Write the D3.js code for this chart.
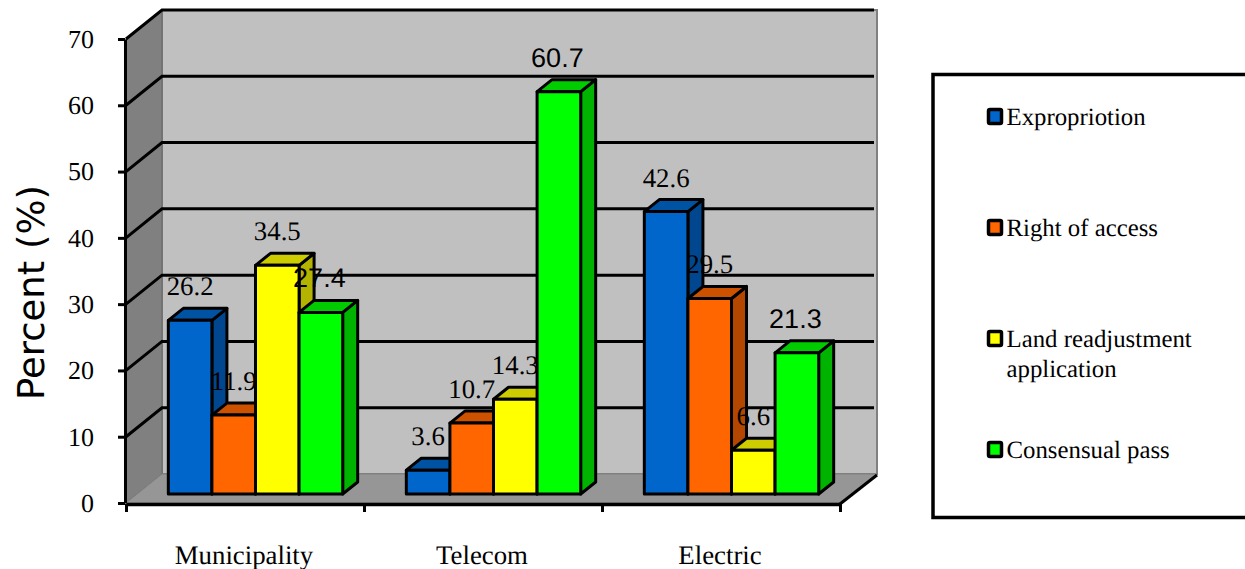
<!DOCTYPE html>
<html>
<head>
<meta charset="utf-8">
<script src="https://cdn.jsdelivr.net/npm/d3@7/dist/d3.min.js"></script>
<style>
html,body{margin:0;padding:0;background:#fff;overflow:hidden}
svg{display:block;text-rendering:geometricPrecision}
</style>
</head>
<body>
<svg id="chart" width="1245" height="569"></svg>
<script>
// Land-transfer methods by utility sector, drawn as a pseudo-3D clustered column chart.
const categories = ["Municipality", "Telecom", "Electric"];
const seriesNames = ["Expropriotion", "Right of access", "Land readjustment application", "Consensual pass"];
const expropriation = [26.2, 3.6, 42.6];
const rightOfAccess = [11.9, 10.7, 29.5];
const landReadjustment = [34.5, 14.3, 6.6];
const consensualPass = [27.4, 60.7, 21.3];
const seriesValues = [expropriation, rightOfAccess, landReadjustment, consensualPass];
const valueTicks = [0, 10, 20, 30, 40, 50, 60, 70];

const faceColors = ["#0066cc", "#ff6600", "#ffff00", "#00ff00"];
const topColors = ["#0052a3", "#cc5200", "#cccc00", "#00cc00"];
const sideColors = ["#00478f", "#b34700", "#b3b300", "#00b300"];

const serif = "'Liberation Serif','Times New Roman',serif";
const sans = "'Liberation Sans',Arial,sans-serif";

const svg = d3.select("#chart");

// Box projection: front edge of the floor and the shift to the back wall.
const plot = {left: 126, right: 840, front: 503, top: 39, depthX: 36, depthY: -29};
const y = d3.scaleLinear().domain([0, 70]).range([plot.front, plot.top]);
const x = d3.scaleBand().domain(categories).range([plot.left, plot.right]);
const barShiftX = 10.5, barShiftY = -9, barDepthX = 15, barDepthY = -12;
const inner = d3.scaleBand().domain(d3.range(seriesNames.length))
  .range([0, x.bandwidth()]).paddingInner(0).paddingOuter(0.73);
const poly = pts => pts.map(p => p.join(",")).join(" ");

const backL = plot.left + plot.depthX, backR = plot.right + plot.depthX + 1;
const yBack = v => y(v) + plot.depthY;

// Walls and floor
svg.append("polygon").attr("points", poly([[backL, yBack(70)], [backR, yBack(70)], [backR, yBack(0)], [backL, yBack(0)]]))
  .attr("fill", "#c0c0c0").attr("stroke", "#808080").attr("stroke-width", 2);
svg.append("polygon").attr("points", poly([[plot.left, y(70)], [backL, yBack(70)], [backL, yBack(0)], [plot.left, y(0)]]))
  .attr("fill", "#808080").attr("stroke", "#666").attr("stroke-width", 1);
svg.append("polygon").attr("points", poly([[plot.left, y(0)], [backL, yBack(0)], [backR, yBack(0)], [plot.right, y(0)]]))
  .attr("fill", "#969696").attr("stroke", "#808080").attr("stroke-width", 1);

// Gridlines wrapping from the left wall across the back wall
svg.append("g").selectAll("polyline").data(valueTicks.filter(d => d > 0)).join("polyline")
  .attr("points", d => poly([[plot.left, y(d)], [backL, yBack(d)], [backR - 3, yBack(d)]]))
  .attr("fill", "none").attr("stroke", "#000").attr("stroke-width", 3);

// Right floor edge
svg.append("line").attr("x1", plot.right).attr("y1", y(0) + 1).attr("x2", backR).attr("y2", yBack(0) + 1)
  .attr("stroke", "#000").attr("stroke-width", 3);

// Axes
const yAxis = d3.axisLeft(y).tickValues(valueTicks).tickSize(7).tickPadding(24).tickSizeOuter(0);
const gy = svg.append("g").attr("transform", `translate(${plot.left - 1},0)`).call(yAxis);
gy.selectAll("path").attr("stroke", "#000").attr("stroke-width", 3);
gy.selectAll("line").attr("stroke", "#000").attr("stroke-width", 3);
gy.selectAll("text").attr("font-family", serif).attr("font-size", 26).attr("fill", "#000");

const xEdges = d3.range(categories.length + 1).map(i => plot.left + i * x.step());
const xAxisScale = d3.scaleLinear().domain([plot.left, plot.right]).range([plot.left, plot.right]);
const gx = svg.append("g").attr("transform", `translate(0,${plot.front + 1})`)
  .call(d3.axisBottom(xAxisScale).tickValues(xEdges).tickSize(8).tickSizeOuter(0).tickFormat(""));
gx.selectAll("path").attr("stroke", "#000").attr("stroke-width", 3.5);
gx.selectAll("line").attr("stroke", "#000").attr("stroke-width", 3);

svg.append("g").selectAll("text").data(categories).join("text")
  .attr("x", d => x(d) + x.bandwidth() / 2 - 1)
  .attr("y", 564)
  .attr("text-anchor", "middle").attr("font-family", serif).attr("font-size", 26.8).attr("fill", "#000")
  .text(d => d);

svg.append("text").attr("transform", "translate(44,292.5) rotate(-90)")
  .attr("text-anchor", "middle").attr("font-family", "'DejaVu Sans',sans-serif").attr("font-size", 37).attr("fill", "#000")
  .text("Percent (%)");

// Columns: one box per series, left to right inside each category
const flat = [];
categories.forEach((c, ci) => seriesNames.forEach((s, si) => flat.push({c, ci, si, v: seriesValues[si][ci]})));

svg.append("g").selectAll("g").data(flat).join("g").each(function (d) {
  const g = d3.select(this);
  const x0 = x(d.c) + inner(d.si) + barShiftX, x1 = x0 + inner.bandwidth();
  const yB = y(0) + barShiftY, yT = y(d.v) + barShiftY;
  const add = (pts, fill) => g.append("polygon").attr("points", poly(pts)).attr("fill", fill)
    .attr("stroke", "#000").attr("stroke-width", 3).attr("stroke-linejoin", "round");
  add([[x1, yT], [x1 + barDepthX, yT + barDepthY], [x1 + barDepthX, yB + barDepthY], [x1, yB]], sideColors[d.si]);
  add([[x0, yT], [x0 + barDepthX, yT + barDepthY], [x1 + barDepthX, yT + barDepthY], [x1, yT]], topColors[d.si]);
  add([[x0, yT], [x1, yT], [x1, yB], [x0, yB]], faceColors[d.si]);
});

// Value labels sit above the columns; the last series uses the sans face
const isSansLabel = d => d.si === 3;
svg.append("g").selectAll("text").data(flat).join("text")
  .attr("x", d => x(d.c) + inner(d.si) + barShiftX + inner.bandwidth() / 2 + (isSansLabel(d) ? -1.5 : 0))
  .attr("y", d => y(d.v) + barShiftY - 25)
  .attr("text-anchor", "middle")
  .attr("font-family", d => isSansLabel(d) ? sans : serif)
  .attr("font-size", d => isSansLabel(d) ? 27 : 26.8)
  .attr("fill", "#000")
  .text(d => d.v.toFixed(1));

// Legend frame runs off the right edge of the page
svg.append("rect").attr("x", 933).attr("y", 74.5).attr("width", 340).attr("height", 443)
  .attr("fill", "#fff").attr("stroke", "#000").attr("stroke-width", 3.5);

const legendRows = [["Expropriotion"], ["Right of access"], ["Land readjustment", "application"], ["Consensual pass"]];
const legendY = d3.scalePoint().domain(d3.range(4)).range([125, 458]);
const legend = svg.append("g").selectAll("g").data(legendRows).join("g")
  .attr("transform", (d, i) => `translate(0,${legendY(i)})`);
legend.append("rect").attr("x", 988.5).attr("y", -15.5).attr("width", 13).attr("height", 14).attr("rx", 1.5)
  .attr("fill", (d, i) => faceColors[i]).attr("stroke", "#000").attr("stroke-width", 3.5);
legend.each(function (rows) {
  d3.select(this).selectAll("text").data(rows).join("text")
    .attr("x", 1006.5).attr("y", (r, i) => i * 30)
    .attr("font-family", serif).attr("font-size", 24.8).attr("fill", "#000")
    .text(r => r);
});
</script>
</body>
</html>
